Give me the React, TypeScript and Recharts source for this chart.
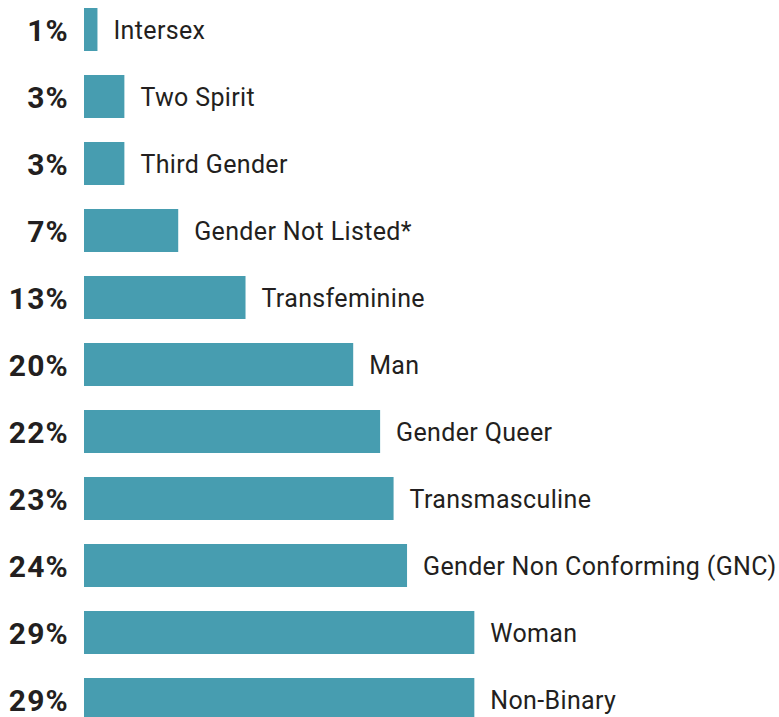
import { BarChart, Bar, XAxis, YAxis, LabelList } from 'recharts'

const categories = [
  'Intersex',
  'Two Spirit',
  'Third Gender',
  'Gender Not Listed*',
  'Transfeminine',
  'Man',
  'Gender Queer',
  'Transmasculine',
  'Gender Non Conforming (GNC)',
  'Woman',
  'Non-Binary',
]

// bar lengths as drawn
const shares = [1, 3, 3, 7, 12, 20, 22, 23, 24, 29, 29]

// printed labels
const pctLabels = ['1%', '3%', '3%', '7%', '13%', '20%', '22%', '23%', '24%', '29%', '29%']

const data = categories.map((name, i) => ({ name, share: shares[i], pct: pctLabels[i] }))

const TEAL = '#479db0'
const FONT = 'Roboto, "Open Sans", sans-serif'

function PctLabel(props: any) {
  const { x, y, height, value } = props
  return (
    <text
      x={x - 15}
      y={y + height / 2 + 11}
      textAnchor="end"
      fontSize={30}
      fontWeight={700}
      letterSpacing={1.2}
      fill="#231f20"
      fontFamily={FONT}
    >
      {value}
    </text>
  )
}

function NameLabel(props: any) {
  const { x, y, width, height, value } = props
  return (
    <text
      x={x + width + 16}
      y={y + height / 2 + 9.5}
      textAnchor="start"
      fontSize={25}
      letterSpacing={0.35}
      fill="#231f20"
      fontFamily={FONT}
    >
      {value}
    </text>
  )
}

export default function App() {
  return (
    <div style={{ position: 'absolute', left: 0, top: 0, width: 779, height: 717, overflow: 'hidden', background: '#fff' }}>
      <div style={{ position: 'relative', top: -4 }}>
        <BarChart
          width={779}
          height={737}
          data={data}
          layout="vertical"
          margin={{ top: 0, right: 22, bottom: 0, left: 84 }}
        >
          <XAxis type="number" domain={[0, 50]} hide />
          <YAxis type="category" dataKey="name" hide />
          <Bar dataKey="share" fill={TEAL} barSize={43} isAnimationActive={false}>
            <LabelList dataKey="pct" content={PctLabel} />
            <LabelList dataKey="name" content={NameLabel} />
          </Bar>
        </BarChart>
      </div>
    </div>
  )
}
